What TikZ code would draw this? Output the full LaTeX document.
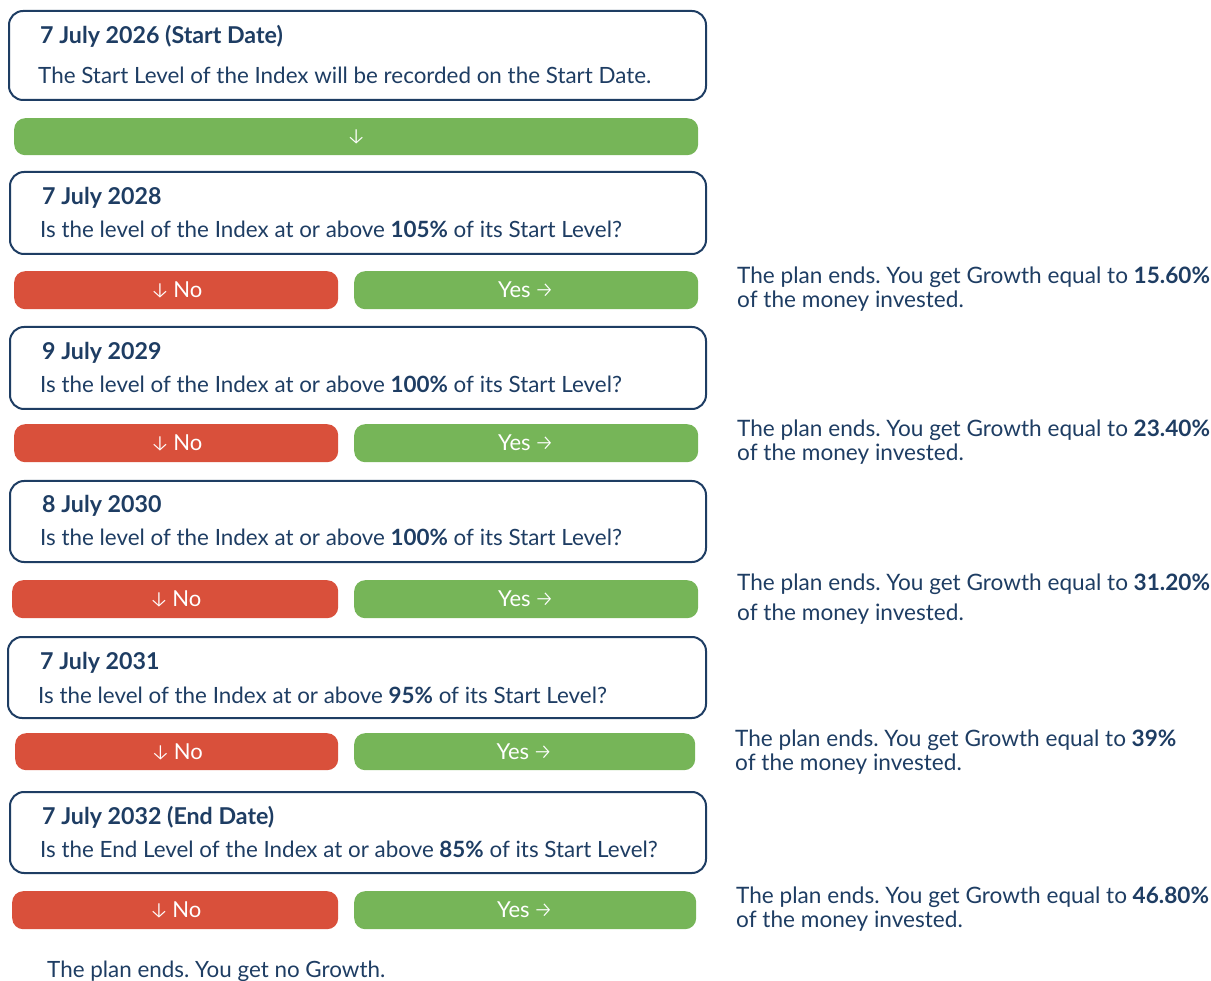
\documentclass[tikz,border=0pt]{standalone}
\usepackage{fontspec}
\setmainfont{Lato}
\newfontfamily\arrowfont{Fira Sans Light}
\definecolor{navy}{RGB}{30,61,99}
\definecolor{nored}{RGB}{217,80,59}
\definecolor{yesgreen}{RGB}{118,181,88}
\tikzset{
  card/.style={draw=navy, line width=2pt, rounded corners=14pt, fill=white, anchor=north west, inner sep=0pt},
  btnno/.style={fill=nored, rounded corners=11pt, anchor=north west, inner sep=0pt, text=white, font=\fontsize{22}{24}\selectfont},
  btnyes/.style={fill=yesgreen, rounded corners=11pt, anchor=north west, inner sep=0pt, text=white, font=\fontsize{22}{24}\selectfont},
  ttl/.style={anchor=base west, inner sep=0pt, text=navy, font=\fontsize{23.2}{26}\selectfont\bfseries},
  txt/.style={anchor=base west, inner sep=0pt, text=navy, font=\fontsize{22.4}{26}\selectfont},
  side/.style={anchor=north west, inner sep=0pt, text=navy, align=left, font=\fontsize{22.6}{24}\selectfont},
}
\newcommand{\dn}{{\arrowfont\fontsize{22}{22}\selectfont ↓}}
\newcommand{\rt}{{\arrowfont\fontsize{22}{22}\selectfont →}}
\begin{document}
\frenchspacing
\begin{tikzpicture}[x=1pt,y=-1pt]
\useasboundingbox (0,0) rectangle (1211,981);
% card 1
\node[card, minimum width=697pt, minimum height=89pt] (c1) at (8,10) {};
\node[ttl] (t1) at (40,44) {7 July 2026 (Start Date)};
\node[txt] (l1) at (38,84) {The Start Level of the Index will be recorded on the Start Date.};
\node[btnyes, minimum width=684pt, minimum height=37pt] (g0) at (14,118) {\dn};
% card 2
\node[card, minimum width=696pt, minimum height=82pt] (c2) at (9,171) {};
\node[ttl] (t2) at (42,205) {7 July 2028};
\node[txt] (l2) at (40,238) {Is the level of the Index at or above \textbf{105\%} of its Start Level?};
\node[btnno, minimum width=324pt, minimum height=38pt] (n2) at (14,271) {\dn\,No};
\node[btnyes, minimum width=344pt, minimum height=38pt] (y2) at (354,271) {Yes\,\rt};
\node[side] (s2) at (737,267) {The plan ends. You get Growth equal to \textbf{15.60\%}\\of the money invested.};
% card 3
\node[card, minimum width=696pt, minimum height=82pt] (c3) at (9,326) {};
\node[ttl] (t3) at (42,360) {9 July 2029};
\node[txt] (l3) at (40,393) {Is the level of the Index at or above \textbf{100\%} of its Start Level?};
\node[btnno, minimum width=324pt, minimum height=38pt] (n3) at (14,424) {\dn\,No};
\node[btnyes, minimum width=344pt, minimum height=38pt] (y3) at (354,424) {Yes\,\rt};
\node[side] (s3) at (737,420) {The plan ends. You get Growth equal to \textbf{23.40\%}\\of the money invested.};
% card 4
\node[card, minimum width=696pt, minimum height=81pt] (c4) at (9,480) {};
\node[ttl] (t4) at (42,513) {8 July 2030};
\node[txt] (l4) at (40,546) {Is the level of the Index at or above \textbf{100\%} of its Start Level?};
\node[btnno, minimum width=326pt, minimum height=38pt] (n4) at (12,580) {\dn\,No};
\node[btnyes, minimum width=344pt, minimum height=38pt] (y4) at (354,580) {Yes\,\rt};
\node[side, font=\fontsize{22.6}{30}\selectfont] (s4) at (737,574) {The plan ends. You get Growth equal to \textbf{31.20\%}\\of the money invested.};
% card 5
\node[card, minimum width=698pt, minimum height=81pt] (c5) at (7,636) {};
\node[ttl] (t5) at (40,669) {7 July 2031};
\node[txt] (l5) at (38,703) {Is the level of the Index at or above \textbf{95\%} of its Start Level?};
\node[btnno, minimum width=323pt, minimum height=37pt] (n5) at (15,733) {\dn\,No};
\node[btnyes, minimum width=341pt, minimum height=37pt] (y5) at (354,733) {Yes\,\rt};
\node[side] (s5) at (735,730) {The plan ends. You get Growth equal to \textbf{39\%}\\of the money invested.};
% card 6
\node[card, minimum width=696pt, minimum height=81pt] (c6) at (9,791) {};
\node[ttl] (t6) at (42,824) {7 July 2032 (End Date)};
\node[txt] (l6) at (40,857) {Is the End Level of the Index at or above \textbf{85\%} of its Start Level?};
\node[btnno, minimum width=326pt, minimum height=38pt] (n6) at (12,891) {\dn\,No};
\node[btnyes, minimum width=342pt, minimum height=38pt] (y6) at (354,891) {Yes\,\rt};
\node[side] (s6) at (736,887) {The plan ends. You get Growth equal to \textbf{46.80\%}\\of the money invested.};
% final
\node[txt] (fin) at (47,977) {The plan ends. You get no Growth.};
\end{tikzpicture}
\end{document}
